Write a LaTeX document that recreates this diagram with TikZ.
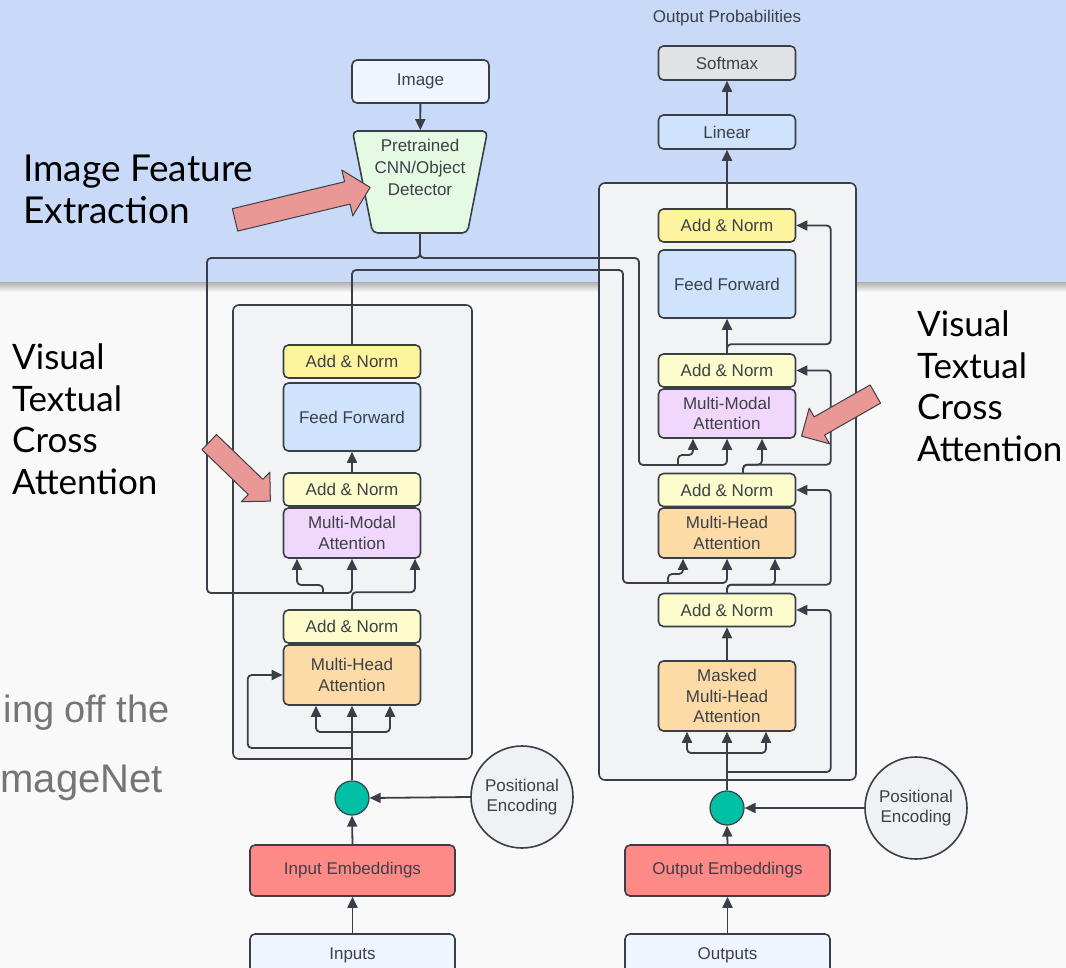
\documentclass[tikz,border=0pt]{standalone}
\usepackage{fontspec}
\setmainfont{Liberation Sans}
\newfontfamily\latofont{Lato}
\usetikzlibrary{arrows.meta,shapes.geometric,shapes.arrows}

\definecolor{slideblue}{HTML}{C9DAF8}
\definecolor{slidebg}{HTML}{F9F9F9}
\definecolor{panelgray}{HTML}{F1F3F5}
\definecolor{linegray}{HTML}{3A3F47}
\definecolor{inkgray}{HTML}{3C4048}
\definecolor{normyellow}{HTML}{FEF49E}
\definecolor{normpale}{HTML}{FDFCCD}
\definecolor{ffblue}{HTML}{CFE3FD}
\definecolor{mmpurple}{HTML}{F2D7FC}
\definecolor{mhorange}{HTML}{FDDBA6}
\definecolor{embred}{HTML}{FE8A87}
\definecolor{ioblue}{HTML}{EEF5FF}
\definecolor{smgray}{HTML}{E0E2E6}
\definecolor{cnngreen}{HTML}{E5FAE3}
\definecolor{sumteal}{HTML}{00BFA5}
\definecolor{pegray}{HTML}{EFF1F4}
\definecolor{calloutred}{HTML}{EA9896}
\definecolor{fadedtext}{HTML}{757575}

\begin{document}
\begin{tikzpicture}[x=1pt,y=-1pt,line join=round]
    \tikzstyle{every node}=[font=\fontsize{17}{20.5}\selectfont, text=inkgray, inner sep=0pt]
    \tikzstyle{block}=[draw=linegray, line width=1.6pt, rounded corners=5pt, align=center, minimum width=137pt]
    \tikzstyle{addnorm}=[block, fill=normpale, minimum height=33pt]
    \tikzstyle{topnorm}=[addnorm, fill=normyellow]
    \tikzstyle{ffwd}=[block, fill=ffblue, minimum height=68pt]
    \tikzstyle{mmattn}=[block, fill=mmpurple, minimum height=50pt]
    \tikzstyle{mhattn}=[block, fill=mhorange, minimum height=50pt]
    \tikzstyle{embed}=[block, fill=embred, minimum width=205pt, minimum height=51pt]
    \tikzstyle{tokens}=[block, fill=ioblue, minimum width=205pt, minimum height=42pt]
    \tikzstyle{panel}=[draw=linegray, line width=1.6pt, fill=panelgray, rounded corners=6pt]
    \tikzstyle{sum}=[circle, draw=linegray, line width=1.2pt, fill=sumteal, minimum size=34pt]
    \tikzstyle{posenc}=[circle, draw=linegray, line width=1.6pt, fill=pegray, minimum size=102pt, align=center]
    \tikzstyle{link}=[draw=linegray, line width=1.8pt, rounded corners=4pt]
    \tikzstyle{arr}=[link, -{Triangle[length=11pt,width=10pt]}]
    \tikzstyle{callout}=[single arrow, draw=linegray, line width=1pt, fill=calloutred, inner xsep=0pt, inner ysep=10pt, single arrow head extend=10pt, minimum height=85pt]
    \tikzstyle{caption}=[font=\latofont\fontsize{35}{41.5}\selectfont, text=black, anchor=base west]
    \tikzstyle{faded}=[font=\fontsize{38}{44}\selectfont, text=fadedtext, anchor=base east]

    \useasboundingbox (0,0) rectangle (1066,968);
    % slide background
    \fill[slidebg] (0,0) rectangle (1066,968);
    \fill[slideblue] (0,0) rectangle (1066,283);
    \shade[top color=black!28, bottom color=slidebg] (0,283) rectangle (1066,292);
    \node[faded] (cuttop) at (170,722) {ing off the};
    \node[faded, font=\fontsize{40}{44}\selectfont] (cutbot) at (163,792) {mageNet};

    % encoder and decoder stacks
    \node[panel, minimum width=239pt, minimum height=454pt] (encoder) at (352.5,532) {};
    \node[panel, minimum width=257pt, minimum height=597pt] (decoder) at (727.5,481.5) {};

    % image branch
    \node[block, fill=ioblue, minimum height=43pt] (image) at (420.5,81.5) {Image};
    \node[trapezium, trapezium angle=78, shape border rotate=180, trapezium stretches=true, inner sep=2pt, draw=linegray, line width=1.6pt, fill=cnngreen, rounded corners=5pt, minimum width=135pt, minimum height=102pt] (cnn) at (420,182) {};
    \node[align=center, font=\fontsize{17}{22}\selectfont] (cnnlabel) at (420,167) {Pretrained\\CNN/Object\\Detector};

    % output head
    \node (probs) at (727,18) {Output Probabilities};
    \node[block, fill=smgray, minimum height=34pt] (softmax) at (727,63) {Softmax};
    \node[block, fill=ffblue, minimum height=34pt] (linear) at (727,132) {Linear};

    % encoder
    \node[topnorm] (enorm1) at (352,361.5) {Add \& Norm};
    \node[ffwd] (effwd) at (352,417) {Feed Forward};
    \node[addnorm] (enorm2) at (352,489.5) {Add \& Norm};
    \node[mmattn] (emmattn) at (352,533) {Multi-Modal\\Attention};
    \node[addnorm] (enorm3) at (352,626.5) {Add \& Norm};
    \node[mhattn, minimum height=60pt] (emhattn) at (352,675) {Multi-Head\\Attention};
    \node[sum] (esum) at (352,798) {};
    \node[posenc] (epos) at (522,797) {Positional\\Encoding};
    \node[embed] (eembed) at (352.5,870.5) {Input Embeddings};
    \node[tokens] (einputs) at (352.5,955) {Inputs};

    % decoder
    \node[topnorm] (dnorm1) at (727,225.5) {Add \& Norm};
    \node[ffwd] (dffwd) at (727,284) {Feed Forward};
    \node[addnorm] (dnorm2) at (727,370.5) {Add \& Norm};
    \node[mmattn, minimum height=49pt] (dmmattn) at (727,413.5) {Multi-Modal\\Attention};
    \node[addnorm] (dnorm3) at (727,490) {Add \& Norm};
    \node[mhattn] (dmhattn) at (727,533) {Multi-Head\\Attention};
    \node[addnorm] (dnorm4) at (727,610) {Add \& Norm};
    \node[mhattn, minimum height=70pt] (dmasked) at (727,696) {Masked\\Multi-Head\\Attention};
    \node[sum] (dsum) at (727,808) {};
    \node[posenc] (dpos) at (916,808) {Positional\\Encoding};
    \node[embed] (dembed) at (727.5,870.5) {Output Embeddings};
    \node[tokens] (doutputs) at (727.5,955) {Outputs};

    % split points
    \coordinate (eqkv) at (352,732);
    \coordinate (eskip) at (352,748);
    \coordinate (ekv) at (323,593);
    \coordinate (dkv1) at (678,465);
    \coordinate (dkv2) at (668,583);
    \coordinate (dqkv) at (727,753);
    \coordinate (dskip) at (727,772);

    % encoder wiring
    \draw[arr] (einputs.north) -- (eembed.south);
    \draw[arr] (eembed.north) -- (esum.south);
    \draw[arr] (epos.west) -- (esum.east);
    \draw[arr] (esum.north) -- (emhattn.south);
    \draw[arr] (eqkv) -| ([xshift=-36pt]emhattn.south);
    \draw[arr] (eqkv) -| ([xshift=38pt]emhattn.south);
    \draw[arr] (eskip) -| ([xshift=-35pt]emhattn.west) -- (emhattn.west);
    \draw[arr] (enorm3.north) -- ++(0,-17) -| ([xshift=63pt]emmattn.south);
    \draw[arr] (enorm2.north) -- (effwd.south);

    % image features into both stacks
    \draw[arr] (image) -- (cnn);
    \draw[arr] (cnn.south) |- (207,258) -- (207,593) -| (emmattn.south);
    \draw[arr] (ekv) -- ++(0,-8) -| ([xshift=-55pt]emmattn.south);
    \draw[arr] (cnn.south) |- (639,258) -- (639,465) -| (dmmattn.south);
    \draw[arr] (dkv1) -- ++(0,-10) -| ([xshift=-34pt]dmmattn.south);

    % encoder output into decoder
    \draw[arr] (enorm1.north) |- (623,270) -- (623,583) -| (dmhattn.south);
    \draw[arr] (dkv2) -- ++(0,-9) -| ([xshift=-44pt]dmhattn.south);

    % decoder wiring
    \draw[arr] (doutputs.north) -- (dembed.south);
    \draw[arr] (dembed.north) -- (dsum.south);
    \draw[arr] (dpos.west) -- (dsum.east);
    \draw[arr] (dsum.north) -- (dmasked.south);
    \draw[arr] (dqkv) -| ([xshift=-40pt]dmasked.south);
    \draw[arr] (dqkv) -| ([xshift=39pt]dmasked.south);
    \draw[arr] (dskip) -| ([xshift=34.5pt]dnorm4.east) -- (dnorm4.east);
    \draw[arr] (dmasked.north) -- (dnorm4.south);
    \draw[arr] (dnorm4.north) -- ++(0,-8) -| ([xshift=48pt]dmhattn.south);
    \draw[arr] (dnorm4.north) -- ++(0,-8) -| ([xshift=34.5pt]dnorm3.east) -- (dnorm3.east);
    \draw[arr] ([xshift=16pt]dnorm3.north) -- ++(0,-8) -| ([xshift=35pt]dmmattn.south);
    \draw[arr] ([xshift=16pt]dnorm3.north) -- ++(0,-8) -| ([xshift=34.5pt]dnorm2.east) -- (dnorm2.east);
    \draw[arr] (dnorm2.north) -- (dffwd.south);
    \draw[arr] (dnorm2.north) -- ++(0,-9) -| ([xshift=34.5pt]dnorm1.east) -- (dnorm1.east);
    \draw[arr] (dnorm1.north) -- (linear.south);
    \draw[arr] (linear.north) -- (softmax.south);

    % captions and callouts
    \node[caption, font=\latofont\fontsize{37}{42}\selectfont] (featcap) at (23,182) {\begin{tabular}[t]{@{}l@{}}Image Feature\\Extraction\end{tabular}};
    \node[caption] (crossleft) at (12,370) {\begin{tabular}[t]{@{}l@{}}Visual\\Textual\\Cross\\Attention\end{tabular}};
    \node[caption] (crossright) at (917,337) {\begin{tabular}[t]{@{}l@{}}Visual\\Textual\\Cross\\Attention\end{tabular}};
    \node[callout, inner ysep=11pt, single arrow head extend=12pt, minimum height=139pt, rotate=13.5] (featarrow) at (297,205) {};
    \node[callout, rotate=-44] (crossarrowl) at (236,468) {};
    \node[callout, rotate=209.7] (crossarrowr) at (843,412.5) {};
\end{tikzpicture}
\end{document}
